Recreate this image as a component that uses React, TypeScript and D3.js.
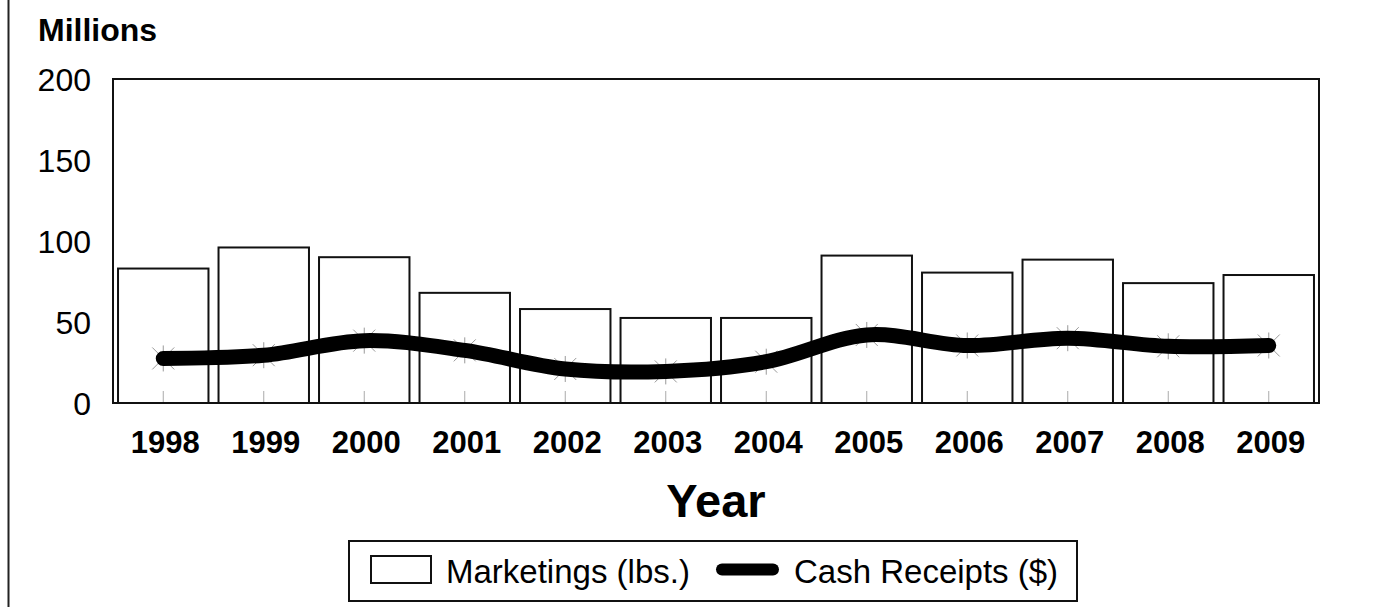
import React from "react";
import * as d3 from "d3";

const years = ["1998","1999","2000","2001","2002","2003","2004","2005","2006","2007","2008","2009"];
const marketings = [83, 96, 90, 68, 58, 52.5, 52.5, 91, 80.5, 88.5, 74, 79];
const cashReceipts = [27.5, 29.5, 38.5, 32.5, 21, 19.5, 25.5, 42, 35.5, 40, 35, 35.5];
const yTicks = [0, 50, 100, 150, 200];

const W = 1373, H = 607;
const FONT = "'Liberation Sans', Arial, sans-serif";

export default function App() {
  const left = 113, right = 1319, top = 79, bottom = 403;
  const x = d3.scaleBand<string>().domain(years).range([left, right]).paddingInner(0.1).paddingOuter(0.05);
  const y = d3.scaleLinear().domain([0, 200]).range([bottom, top]);
  const cx = (d: string) => (x(d) as number) + x.bandwidth() / 2;
  const line = d3.line<number>().x((_, i) => cx(years[i])).y((v) => y(v)).curve(d3.curveCatmullRom.alpha(0.5));

  return (
    <svg width={W} height={H} style={{ position: "absolute", left: 0, top: 0, background: "#fff" }} fontFamily={FONT}>
      <rect x={0} y={0} width={W} height={H} fill="#fff" />
      <line x1={8.5} x2={8.5} y1={0} y2={H} stroke="#222" strokeWidth={2} />
      <text x={38} y={41} fontSize={32} fontWeight="bold">Millions</text>
      {yTicks.map((t) => (
        <text key={t} x={91} y={y(t)} dy="0.36em" fontSize={32} textAnchor="end">{t}</text>
      ))}
      {years.map((yr, i) => (
        <rect key={yr} x={x(yr)} y={y(marketings[i])} width={x.bandwidth()} height={bottom - y(marketings[i])}
          fill="#fff" stroke="#111" strokeWidth={2} />
      ))}
      {years.map((yr) => (
        <line key={"t" + yr} x1={cx(yr)} x2={cx(yr)} y1={bottom} y2={bottom - 12} stroke="#aaa" strokeWidth={1} />
      ))}
      <rect x={left} y={top} width={right - left} height={bottom - top} fill="none" stroke="#111" strokeWidth={2} />
      {years.map((yr, i) => {
        const px = cx(yr), py = y(cashReceipts[i]), s = 11;
        return (
          <g key={"m" + yr} stroke="#999" strokeWidth={1}>
            <line x1={px - s} x2={px + s} y1={py - s} y2={py + s} />
            <line x1={px - s} x2={px + s} y1={py + s} y2={py - s} />
            <line x1={px} x2={px} y1={py - s - 2} y2={py + s + 2} />
          </g>
        );
      })}
      <path d={line(cashReceipts) || ""} fill="none" stroke="#000" strokeWidth={15} strokeLinecap="round" strokeLinejoin="round" />
      {years.map((yr) => (
        <text key={"l" + yr} x={cx(yr) + 2} y={453} fontSize={31} fontWeight="bold" textAnchor="middle">{yr}</text>
      ))}
      <text x={(left + right) / 2} y={517} fontSize={47} fontWeight="bold" textAnchor="middle">Year</text>
      <rect x={349} y={541} width={728} height={60} fill="#fff" stroke="#111" strokeWidth={2} />
      <rect x={371} y={556} width={60} height={27} fill="#fff" stroke="#111" strokeWidth={2} />
      <text x={446} y={583} fontSize={33}>Marketings (lbs.)</text>
      <line x1={722} x2={773} y1={569.5} y2={569.5} stroke="#000" strokeWidth={12} strokeLinecap="round" />
      <text x={794} y={583} fontSize={33}>Cash Receipts ($)</text>
    </svg>
  );
}
